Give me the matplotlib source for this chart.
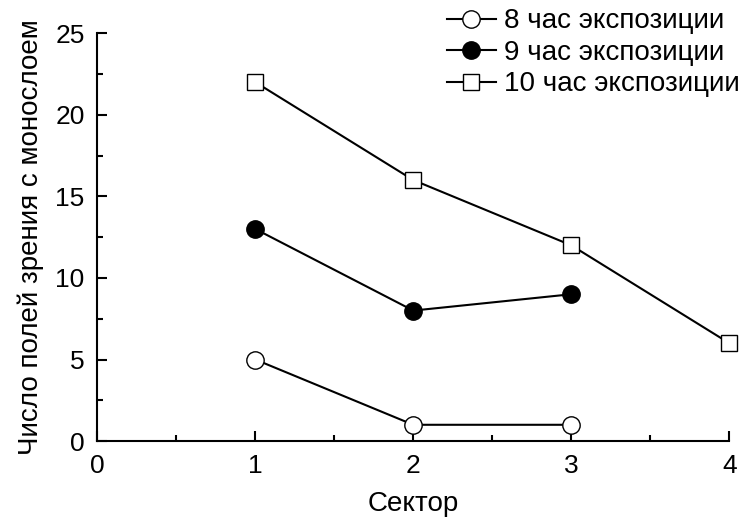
import matplotlib
matplotlib.use("Agg")
import matplotlib.pyplot as plt
from matplotlib.ticker import MultipleLocator

plt.rcParams["font.family"] = ["Liberation Sans", "DejaVu Sans"]
plt.rcParams["font.size"] = 19

# data
sectors_8 = [1, 2, 3]
values_8 = [5, 1, 1]
sectors_9 = [1, 2, 3]
values_9 = [13, 8, 9]
sectors_10 = [1, 2, 3, 4]
values_10 = [22, 16, 12, 6]
labels = ["8 час экспозиции", "9 час экспозиции", "10 час экспозиции"]

fig = plt.figure(figsize=(7.48, 5.27), dpi=100)
ax = fig.add_axes([0.13, 0.163, 0.845, 0.774])

style = dict(color="black", lw=1.5, markeredgewidth=1.0,
             clip_on=False, zorder=3)
ax.plot(sectors_8, values_8, marker="o", markerfacecolor="white",
        markersize=12.5, label=labels[0], **style)
ax.plot(sectors_9, values_9, marker="o", markerfacecolor="black",
        markersize=12.5, label=labels[1], **style)
ax.plot(sectors_10, values_10, marker="s", markerfacecolor="white",
        markersize=12, label=labels[2], **style)

ax.set_xlim(0, 4)
ax.set_ylim(0, 25)
ax.xaxis.set_major_locator(MultipleLocator(1))
ax.xaxis.set_minor_locator(MultipleLocator(0.5))
ax.yaxis.set_major_locator(MultipleLocator(5))
ax.yaxis.set_minor_locator(MultipleLocator(2.5))
ax.tick_params(which="both", direction="in", width=1.5)
ax.tick_params(which="major", length=7, pad=9)
ax.tick_params(which="minor", length=4)

for side in ["top", "right"]:
    ax.spines[side].set_visible(False)
for side in ["left", "bottom"]:
    ax.spines[side].set_linewidth(1.5)

ax.set_xlabel("Сектор", fontsize=20, labelpad=10)
ax.set_ylabel("Число полей зрения с монослоем", fontsize=20, labelpad=8)

fig.legend(loc="upper right", bbox_to_anchor=(1.0, 1.0), frameon=False,
           fontsize=20, handlelength=1.75, handletextpad=0.3,
           labelspacing=0.2, borderaxespad=0.1, borderpad=0.2)

fig.savefig("out.png", dpi=100)
